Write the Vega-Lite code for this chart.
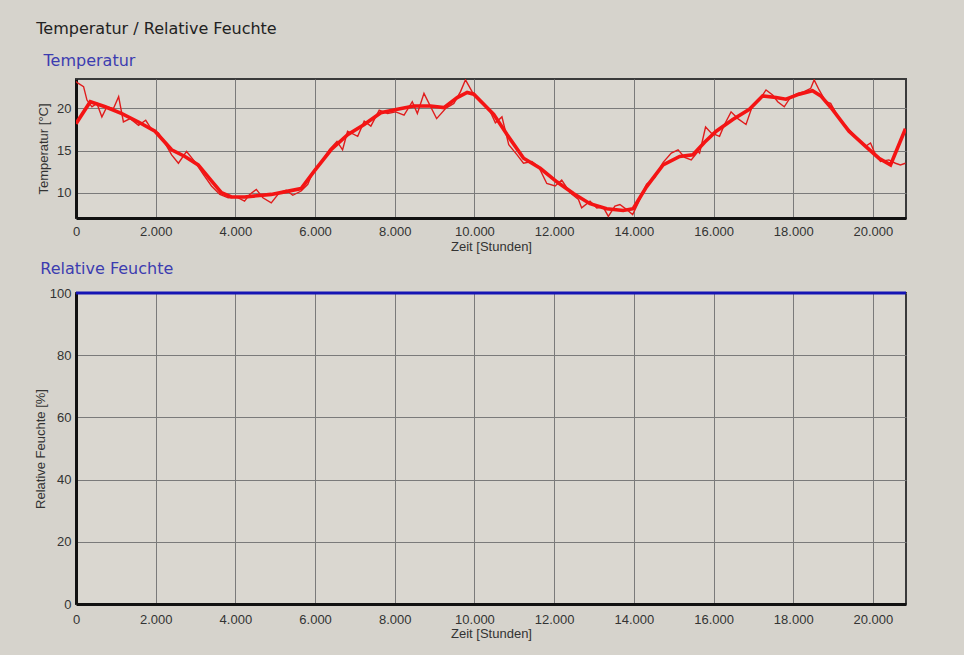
{
  "$schema": "https://vega.github.io/schema/vega-lite/v6.json",
  "background": "#d6d3cc",
  "padding": {"left": 33, "top": 21, "right": 58, "bottom": 17},
  "title": {"text": "Temperatur / Relative Feuchte", "anchor": "start", "font": "DejaVu Sans", "fontSize": 16, "fontWeight": "normal", "color": "#222", "dx": 3, "offset": 15},
  "align": "none",
  "spacing": 6,
  "datasets": {
    "mess": [
      {"t": 0, "v": 23.2}, {"t": 50, "v": 23.0}, {"t": 190, "v": 22.6}, {"t": 275, "v": 21.0}, {"t": 400, "v": 20.2}, {"t": 525, "v": 20.6}, {"t": 650, "v": 19.0}, {"t": 775, "v": 20.2}, {"t": 940, "v": 20.0}, {"t": 1070, "v": 21.4}, {"t": 1190, "v": 18.4}, {"t": 1360, "v": 18.8}, {"t": 1570, "v": 18.0}, {"t": 1750, "v": 18.6}, {"t": 1900, "v": 17.5}, {"t": 2070, "v": 17.1}, {"t": 2230, "v": 15.9}, {"t": 2400, "v": 14.5}, {"t": 2570, "v": 13.5}, {"t": 2775, "v": 14.9}, {"t": 2980, "v": 13.7}, {"t": 3190, "v": 12.2}, {"t": 3400, "v": 10.8}, {"t": 3610, "v": 9.8}, {"t": 3820, "v": 9.4}, {"t": 4025, "v": 9.5}, {"t": 4230, "v": 9.0}, {"t": 4360, "v": 9.8}, {"t": 4525, "v": 10.4}, {"t": 4690, "v": 9.4}, {"t": 4900, "v": 8.8}, {"t": 5100, "v": 10.0}, {"t": 5275, "v": 10.3}, {"t": 5440, "v": 9.7}, {"t": 5650, "v": 10.2}, {"t": 5817, "v": 11.0}, {"t": 5940, "v": 12.4}, {"t": 6150, "v": 13.6}, {"t": 6360, "v": 15.1}, {"t": 6550, "v": 16.1}, {"t": 6690, "v": 15.1}, {"t": 6815, "v": 17.3}, {"t": 7070, "v": 16.7}, {"t": 7233, "v": 18.5}, {"t": 7400, "v": 17.9}, {"t": 7610, "v": 19.8}, {"t": 7820, "v": 19.4}, {"t": 8025, "v": 19.6}, {"t": 8233, "v": 19.2}, {"t": 8440, "v": 20.8}, {"t": 8567, "v": 19.4}, {"t": 8733, "v": 21.8}, {"t": 8900, "v": 20.2}, {"t": 9050, "v": 18.8}, {"t": 9275, "v": 20.0}, {"t": 9483, "v": 20.6}, {"t": 9650, "v": 22.0}, {"t": 9775, "v": 23.4}, {"t": 9940, "v": 22.0}, {"t": 10150, "v": 20.8}, {"t": 10360, "v": 20.0}, {"t": 10525, "v": 18.3}, {"t": 10690, "v": 19.0}, {"t": 10860, "v": 15.7}, {"t": 11070, "v": 14.5}, {"t": 11230, "v": 13.5}, {"t": 11440, "v": 13.7}, {"t": 11610, "v": 13.1}, {"t": 11815, "v": 11.1}, {"t": 12025, "v": 10.8}, {"t": 12190, "v": 11.5}, {"t": 12400, "v": 10.0}, {"t": 12610, "v": 9.2}, {"t": 12690, "v": 8.2}, {"t": 12900, "v": 9.0}, {"t": 13070, "v": 8.2}, {"t": 13230, "v": 8.3}, {"t": 13360, "v": 7.2}, {"t": 13525, "v": 8.4}, {"t": 13650, "v": 8.6}, {"t": 13820, "v": 8.0}, {"t": 13970, "v": 7.4}, {"t": 14110, "v": 8.8}, {"t": 14320, "v": 11.0}, {"t": 14525, "v": 11.8}, {"t": 14735, "v": 13.6}, {"t": 14940, "v": 14.7}, {"t": 15110, "v": 15.1}, {"t": 15275, "v": 14.2}, {"t": 15440, "v": 13.9}, {"t": 15610, "v": 14.9}, {"t": 15650, "v": 14.7}, {"t": 15800, "v": 17.8}, {"t": 15940, "v": 17.1}, {"t": 16150, "v": 16.7}, {"t": 16275, "v": 18.1}, {"t": 16440, "v": 19.6}, {"t": 16610, "v": 18.8}, {"t": 16815, "v": 18.1}, {"t": 16983, "v": 20.4}, {"t": 17150, "v": 21.0}, {"t": 17317, "v": 22.2}, {"t": 17483, "v": 21.6}, {"t": 17610, "v": 20.8}, {"t": 17775, "v": 20.2}, {"t": 17940, "v": 21.4}, {"t": 18110, "v": 21.8}, {"t": 18275, "v": 22.0}, {"t": 18440, "v": 22.4}, {"t": 18525, "v": 23.4}, {"t": 18650, "v": 22.2}, {"t": 18817, "v": 20.8}, {"t": 18940, "v": 20.6}, {"t": 19150, "v": 18.8}, {"t": 19400, "v": 17.5}, {"t": 19610, "v": 16.5}, {"t": 19815, "v": 15.5}, {"t": 19940, "v": 15.9}, {"t": 20065, "v": 14.5}, {"t": 20190, "v": 13.7}, {"t": 20400, "v": 13.9}, {"t": 20565, "v": 13.5}, {"t": 20690, "v": 13.3}, {"t": 20815, "v": 13.5}
    ],
    "mittel": [
      {"t": 0, "v": 18.2}, {"t": 358, "v": 20.8}, {"t": 733, "v": 20.2}, {"t": 1150, "v": 19.4}, {"t": 1567, "v": 18.4}, {"t": 1983, "v": 17.3}, {"t": 2400, "v": 15.1}, {"t": 2733, "v": 14.3}, {"t": 3067, "v": 13.3}, {"t": 3400, "v": 11.4}, {"t": 3650, "v": 10.0}, {"t": 3900, "v": 9.5}, {"t": 4233, "v": 9.5}, {"t": 4900, "v": 9.8}, {"t": 5233, "v": 10.1}, {"t": 5650, "v": 10.5}, {"t": 5983, "v": 12.6}, {"t": 6400, "v": 15.1}, {"t": 6817, "v": 16.9}, {"t": 7233, "v": 18.1}, {"t": 7650, "v": 19.5}, {"t": 8067, "v": 19.9}, {"t": 8483, "v": 20.3}, {"t": 8900, "v": 20.3}, {"t": 9233, "v": 20.1}, {"t": 9567, "v": 21.3}, {"t": 9817, "v": 21.9}, {"t": 9983, "v": 21.7}, {"t": 10233, "v": 20.5}, {"t": 10483, "v": 19.3}, {"t": 10817, "v": 16.9}, {"t": 11233, "v": 14.1}, {"t": 11650, "v": 12.9}, {"t": 12067, "v": 11.3}, {"t": 12483, "v": 9.9}, {"t": 12900, "v": 8.7}, {"t": 13317, "v": 8.1}, {"t": 13733, "v": 7.9}, {"t": 13983, "v": 8.1}, {"t": 14317, "v": 10.7}, {"t": 14733, "v": 13.3}, {"t": 15150, "v": 14.3}, {"t": 15483, "v": 14.5}, {"t": 15775, "v": 16.0}, {"t": 16067, "v": 17.3}, {"t": 16483, "v": 18.7}, {"t": 16900, "v": 19.9}, {"t": 17233, "v": 21.5}, {"t": 17567, "v": 21.3}, {"t": 17817, "v": 21.1}, {"t": 18150, "v": 21.7}, {"t": 18483, "v": 22.1}, {"t": 18692, "v": 21.5}, {"t": 18983, "v": 19.9}, {"t": 19400, "v": 17.3}, {"t": 19817, "v": 15.5}, {"t": 20150, "v": 14.1}, {"t": 20442, "v": 13.3}, {"t": 20817, "v": 17.6}
    ],
    "feuchte": [
      {"t": 0, "rh": 100}, {"t": 5000, "rh": 100}, {"t": 10000, "rh": 100}, {"t": 15000, "rh": 100}, {"t": 20830, "rh": 100}
    ]
  },
  "vconcat": [
    {
      "title": {"text": "Temperatur", "anchor": "start", "frame": "bounds", "font": "DejaVu Sans", "fontSize": 16, "fontWeight": "normal", "color": "#3c3cb0", "dx": 6, "offset": 10},
      "width": 830,
      "height": 139,
      "layer": [
        {
          "data": {"name": "mess"},
          "mark": {"type": "line", "color": "#e01c1c", "strokeWidth": 1.4, "clip": true},
          "encoding": {
            "x": {"field": "t", "type": "quantitative", "scale": {"domain": [0, 20830], "nice": false}, "axis": {"values": [0, 2000, 4000, 6000, 8000, 10000, 12000, 14000, 16000, 18000, 20000], "labelExpr": "replace(format(datum.value, ','), ',', '.')", "title": "Zeit [Stunden]", "titlePadding": 2, "labelPadding": 7}},
            "y": {"field": "v", "type": "quantitative", "scale": {"domain": [7, 23.5], "nice": false, "zero": false}, "axis": {"values": [10, 15, 20], "title": "Temperatur [°C]", "titlePadding": 6}}
          }
        },
        {
          "data": {"name": "mittel"},
          "mark": {"type": "line", "color": "#f41414", "strokeWidth": 3.6, "clip": true},
          "encoding": {
            "x": {"field": "t", "type": "quantitative"},
            "y": {"field": "v", "type": "quantitative"}
          }
        }
      ]
    },
    {
      "title": {"text": "Relative Feuchte", "anchor": "start", "frame": "bounds", "font": "DejaVu Sans", "fontSize": 16, "fontWeight": "normal", "color": "#3c3cb0", "dx": 6, "offset": 10},
      "width": 830,
      "height": 311,
      "data": {"name": "feuchte"},
      "mark": {"type": "line", "color": "#1414b4", "strokeWidth": 3, "clip": false},
      "encoding": {
        "x": {"field": "t", "type": "quantitative", "scale": {"domain": [0, 20830], "nice": false}, "axis": {"values": [0, 2000, 4000, 6000, 8000, 10000, 12000, 14000, 16000, 18000, 20000], "labelExpr": "replace(format(datum.value, ','), ',', '.')", "title": "Zeit [Stunden]", "titlePadding": 1, "labelPadding": 9}},
        "y": {"field": "rh", "type": "quantitative", "scale": {"domain": [0, 100], "nice": false}, "axis": {"values": [0, 20, 40, 60, 80, 100], "title": "Relative Feuchte [%]", "titlePadding": 2}}
      }
    }
  ],
  "config": {
    "axis": {"labelFont": "Liberation Sans", "labelFontSize": 13, "labelColor": "#333", "titleFont": "Liberation Sans", "titleFontSize": 13, "titleFontWeight": "normal", "titleColor": "#333", "ticks": false, "labelPadding": 5, "gridColor": "#7a7a7a", "gridOpacity": 1, "gridWidth": 1, "domainColor": "#111", "domainWidth": 3, "labelFlush": false, "labelOverlap": false},
    "view": {"stroke": "#3a3a3a", "strokeWidth": 2, "fill": "#dad7d0"}
  }
}
